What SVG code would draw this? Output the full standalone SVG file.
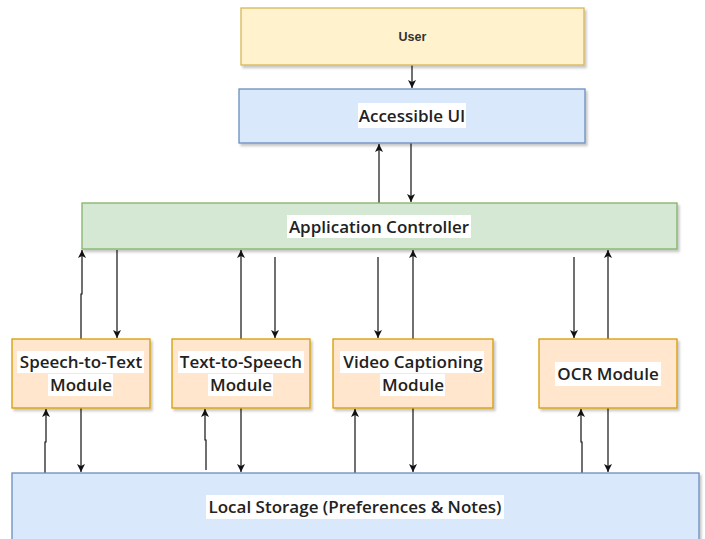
<svg xmlns="http://www.w3.org/2000/svg" width="705" height="539" viewBox="0 0 705 539">
  <style>
    .box { stroke-width: 1.3; filter: url(#shadow); }
    .user { fill: #fff2cc; stroke: #d6b656; }
    .ui { fill: #dae8fc; stroke: #6c8ebf; }
    .ctrl { fill: #d5e8d4; stroke: #82b366; }
    .mod { fill: #ffe6cc; stroke: #d79b00; }
    .lbl { font-family: "Open Sans", "Noto Sans", sans-serif; font-size: 17px; font-weight: 600; fill: #222; text-anchor: middle; }
    .ulbl { font-family: "Liberation Sans", Arial, sans-serif; font-size: 12.5px; font-weight: bold; fill: #333; text-anchor: middle; }
    .bg { fill: #ffffff; }
    .edge { fill: none; stroke: #111; stroke-width: 1.2; marker-end: url(#arrow); }
  </style>
  <defs>
    <filter id="shadow" x="-5%" y="-10%" width="115%" height="130%">
      <feDropShadow dx="2" dy="2.5" stdDeviation="1.2" flood-color="#000" flood-opacity="0.22"/>
    </filter>
    <marker id="arrow" markerUnits="userSpaceOnUse" markerWidth="10" markerHeight="10" refX="8" refY="4" orient="auto">
      <path d="M0,0 L8,4 L0,8 L2,4 Z" fill="#111"/>
    </marker>
  </defs>

  <!-- connectors -->
  <g id="connectors">
    <!-- user / UI -->
    <path class="edge" d="M412,65 V88"/>
    <!-- UI / controller -->
    <path class="edge" d="M379,203 V144"/>
    <path class="edge" d="M411,143 V202"/>
    <!-- controller / speech-to-text -->
    <path class="edge" d="M81,339 V294 H82 V250"/>
    <path class="edge" d="M117,250 V338"/>
    <!-- controller / text-to-speech -->
    <path class="edge" d="M241,339 V250"/>
    <path class="edge" d="M275,257 V338"/>
    <!-- controller / video captioning -->
    <path class="edge" d="M378,257 V338"/>
    <path class="edge" d="M413,339 V250"/>
    <!-- controller / OCR -->
    <path class="edge" d="M574,257 V338"/>
    <path class="edge" d="M608,339 V250"/>
    <!-- speech-to-text / storage -->
    <path class="edge" d="M45,473 V442 H46 V409"/>
    <path class="edge" d="M81,408 V472"/>
    <!-- text-to-speech / storage -->
    <path class="edge" d="M206,470 V440 H205 V409"/>
    <path class="edge" d="M241,408 V472"/>
    <!-- video captioning / storage -->
    <path class="edge" d="M355,473 V409"/>
    <path class="edge" d="M413,408 V472"/>
    <!-- OCR / storage -->
    <path class="edge" d="M582,473 V442 H581 V409"/>
    <path class="edge" d="M608,408 V472"/>
  </g>

  <g id="user">
    <rect class="box user" x="241" y="8" width="343" height="57"/>
    <text class="ulbl" x="412.5" y="41">User</text>
  </g>

  <g id="accessible-ui">
    <rect class="box ui" x="239" y="89" width="346" height="54"/>
    <rect class="bg" x="358" y="103" width="108" height="25"/>
    <text class="lbl" x="412" y="122">Accessible UI</text>
  </g>

  <g id="application-controller">
    <rect class="box ctrl" x="82" y="203" width="595" height="46"/>
    <rect class="bg" x="287" y="215" width="184" height="23"/>
    <text class="lbl" x="379" y="232.5">Application Controller</text>
  </g>

  <g id="speech-to-text">
    <rect class="box mod" x="12" y="339" width="138" height="69"/>
    <rect class="bg" x="17" y="351" width="127" height="22"/>
    <rect class="bg" x="48" y="374" width="65" height="22"/>
    <text class="lbl" x="81" y="368">Speech-to-Text</text>
    <text class="lbl" x="81" y="391">Module</text>
  </g>

  <g id="text-to-speech">
    <rect class="box mod" x="172" y="339" width="138" height="69"/>
    <rect class="bg" x="178" y="351" width="126" height="22"/>
    <rect class="bg" x="208" y="374" width="65" height="22"/>
    <text class="lbl" x="241" y="368">Text-to-Speech</text>
    <text class="lbl" x="241" y="391">Module</text>
  </g>

  <g id="video-captioning">
    <rect class="box mod" x="333" y="339" width="160" height="69"/>
    <rect class="bg" x="340" y="351" width="144" height="22"/>
    <rect class="bg" x="380" y="374" width="65" height="22"/>
    <text class="lbl" x="413" y="368">Video Captioning</text>
    <text class="lbl" x="413" y="391">Module</text>
  </g>

  <g id="ocr-module">
    <rect class="box mod" x="539" y="339" width="138" height="69"/>
    <rect class="bg" x="555" y="362" width="106" height="24"/>
    <text class="lbl" x="608" y="380">OCR Module</text>
  </g>

  <g id="local-storage">
    <rect class="box ui" x="12" y="473" width="687" height="80"/>
    <rect class="bg" x="206" y="495" width="298" height="24"/>
    <text class="lbl" x="355" y="513">Local Storage (Preferences &amp; Notes)</text>
  </g>
</svg>
